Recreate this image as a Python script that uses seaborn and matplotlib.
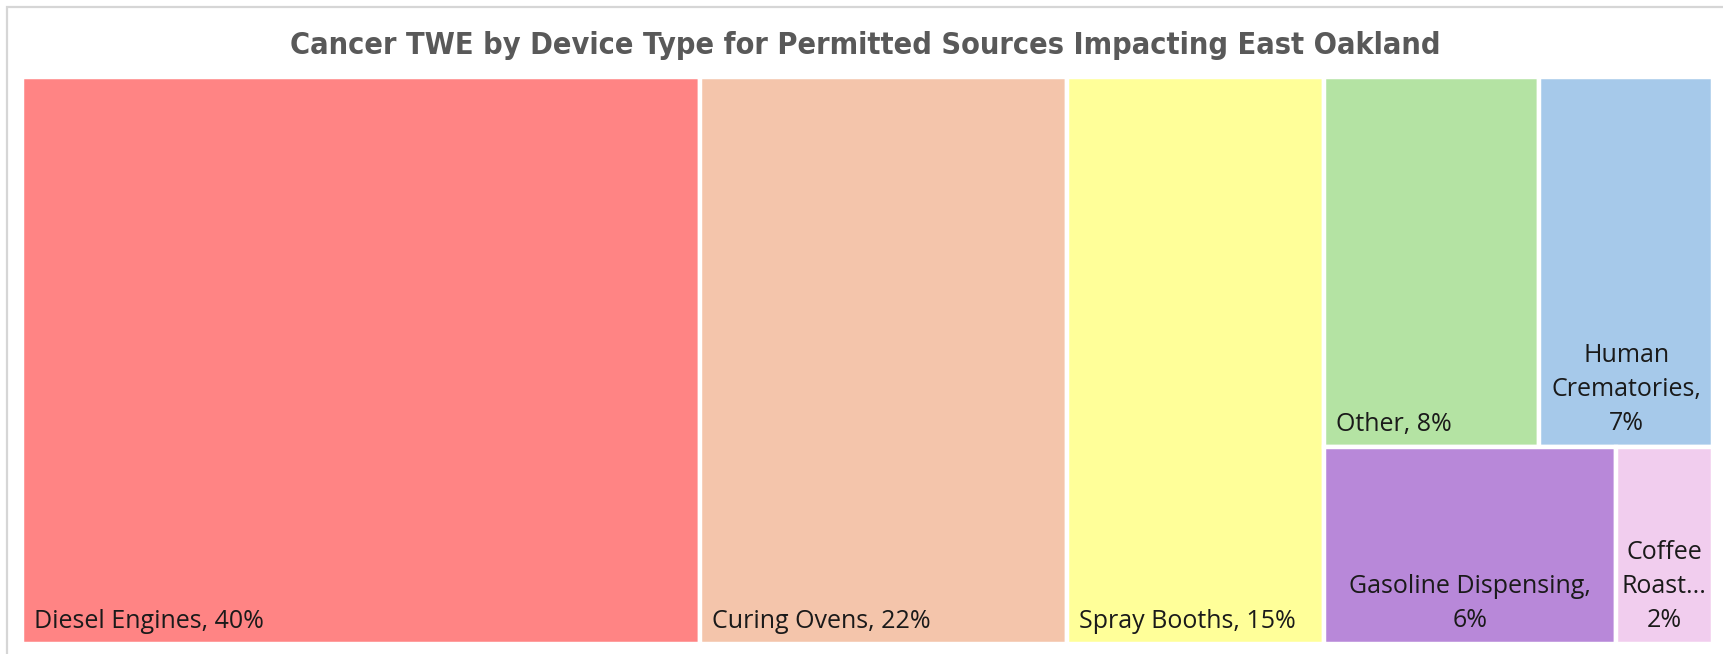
import matplotlib
matplotlib.use("Agg")
import matplotlib.pyplot as plt
from matplotlib.patches import Rectangle
import seaborn as sns

# =====================================================
# Data
# =====================================================

device_types = [
    "Diesel Engines",
    "Curing Ovens",
    "Spray Booths",
    "Other",
    "Human Crematories",
    "Gasoline Dispensing",
    "Coffee Roasting",
]

twe_share = [40.1, 21.7, 15.2, 8.3, 6.7, 6.0, 2.0]

# labels as they appear in the tiles (wrapped / truncated)
tile_labels = [
    "Diesel Engines, 40%",
    "Curing Ovens, 22%",
    "Spray Booths, 15%",
    "Other, 8%",
    "Human\nCrematories,\n7%",
    "Gasoline Dispensing,\n6%",
    "Coffee\nRoast...\n2%",
]

tile_colors = [
    "#FF8484",
    "#F4C5AB",
    "#FFFF99",
    "#B4E3A3",
    "#A6C9EA",
    "#B888D9",
    "#F1CDEE",
]

# tile arrangement: single columns, then one column split into rows
structure = [0, 1, 2, [[3, 4], [5, 6]]]

title = "Cancer TWE by Device Type for Permitted Sources Impacting East Oakland"

# =====================================================
# Figure
# =====================================================

sns.set_theme(style="white")
plt.rcParams["font.family"] = ["Open Sans", "DejaVu Sans"]

W, H = 1724, 654
fig = plt.figure(figsize=(W / 100, H / 100), dpi=100)

# outer chart frame (cropped on right/bottom)
fig.patches.append(
    Rectangle(
        (7 / W, -0.1), 1.2, 1 - 7 / H + 0.1,
        transform=fig.transFigure,
        fill=False,
        edgecolor="#d6d6d6",
        linewidth=1.6,
    )
)

left, right, top, bottom = 22, 1713, 77, 644
ax = fig.add_axes([
    left / W,
    1 - bottom / H,
    (right - left) / W,
    (bottom - top) / H,
])

total = sum(twe_share)
LABEL_SIZE = 18


def draw_tile(i, x0, y0, w, h):
    ax.bar(
        x0, h, width=w, bottom=y0, align="edge",
        color=tile_colors[i], edgecolor="white", linewidth=3.2,
    )
    lbl = tile_labels[i]
    if "\n" in lbl:
        ax.annotate(
            lbl, xy=(x0 + w / 2, y0), xytext=(0, 8),
            textcoords="offset points", ha="center", va="bottom",
            fontsize=LABEL_SIZE, color="#1a1a1a", linespacing=1.47,
        )
    else:
        ax.annotate(
            lbl, xy=(x0, y0), xytext=(8.5, 7),
            textcoords="offset points", ha="left", va="bottom",
            fontsize=LABEL_SIZE, color="#1a1a1a",
        )


x = 0
for item in structure:
    if isinstance(item, int):
        draw_tile(item, x, 0, twe_share[item], 100)
        x += twe_share[item]
    else:
        group_total = sum(twe_share[i] for row in item for i in row)
        y = 100
        for row in item:
            row_total = sum(twe_share[i] for i in row)
            h = row_total / group_total * 100
            y -= h
            xx = x
            for i in row:
                w = twe_share[i] / row_total * group_total
                draw_tile(i, xx, y, w, h)
                xx += w
        x += group_total

ax.set_xlim(0, total)
ax.set_ylim(0, 100)
ax.set_axis_off()

fig.text(
    0.502, 1 - 45 / H, title,
    ha="center", va="center",
    fontsize=22, fontweight="bold", color="#595959",
    family=["DejaVu Sans"], fontstretch="condensed",
)

fig.savefig("out.png", dpi=100, facecolor="white")
